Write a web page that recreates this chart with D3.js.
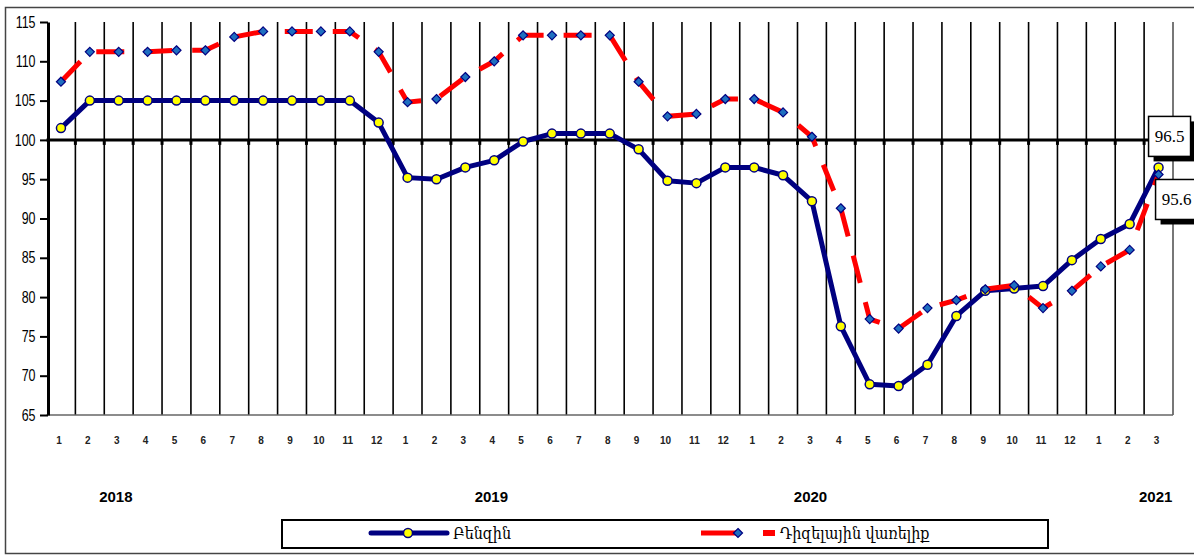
<!DOCTYPE html>
<html>
<head>
<meta charset="utf-8">
<script src="https://cdn.jsdelivr.net/npm/d3@7"></script>
<style>
    body { margin: 0; background: #fff; }
    svg { display: block; }
</style>
</head>
<body>
<svg id="chart"></svg>
<script>
// Fuel price index chart (petrol vs diesel), monthly 2018-2021

const months = ["1","2","3","4","5","6","7","8","9","10","11","12",
                "1","2","3","4","5","6","7","8","9","10","11","12",
                "1","2","3","4","5","6","7","8","9","10","11","12",
                "1","2","3"];
const years = ["2018", "2019", "2020", "2021"];
const seriesNames = ["Բենզին", "Դիզելային վառելիք"];

const petrol = [101.5, 105.0, 105.0, 105.0, 105.0, 105.0, 105.0, 105.0, 105.0, 105.0, 105.0, 102.2,
                95.2, 95.0, 96.5, 97.4, 99.8, 100.8, 100.8, 100.8, 98.8, 94.8, 94.5, 96.5,
                96.5, 95.5, 92.2, 76.3, 68.9, 68.7, 71.4, 77.6, 80.8, 81.1, 81.4, 84.7,
                87.4, 89.3, 96.5];
const diesel = [107.4, 111.2, 111.2, 111.2, 111.4, 111.4, 113.1, 113.8, 113.8, 113.8, 113.8, 111.2,
                104.8, 105.2, 108.0, 110.0, 113.3, 113.3, 113.3, 113.3, 107.4, 103.0, 103.3, 105.2,
                105.2, 103.5, 100.4, 91.3, 77.2, 76.0, 78.6, 79.6, 81.0, 81.5, 78.6, 80.8,
                83.9, 86.0, 95.6];
const yTicks = [65, 70, 75, 80, 85, 90, 95, 100, 105, 110, 115];

const W = 1194, H = 556;
const PLOT = {left: 46.5, right: 1173, top: 22, bottom: 415};
const NAVY = "#000080", RED = "#ff0000", YELLOW = "#ffff00", DIAMOND = "#1f6fc0";

const svg = d3.select("#chart").attr("width", W).attr("height", H);

const idx = months.map((m, i) => i);
const xScale = d3.scaleBand().domain(idx).range([PLOT.left, PLOT.right]).padding(0);
const yScale = d3.scaleLinear().domain([65, 115]).range([PLOT.bottom, PLOT.top]);
const cx = i => xScale(i) + xScale.bandwidth() / 2;

// outer frame
svg.append("rect")
    .attr("x", 5.5).attr("y", 7.5)
    .attr("width", 1210).attr("height", 546)
    .attr("fill", "none").attr("stroke", "#444").attr("stroke-width", 1.5);

// vertical gridlines at category boundaries
svg.append("g").selectAll("line")
    .data(idx)
    .enter().append("line")
    .attr("x1", i => xScale(i) + xScale.bandwidth())
    .attr("x2", i => xScale(i) + xScale.bandwidth())
    .attr("y1", yScale(115)).attr("y2", yScale(65))
    .attr("stroke", i => i === idx.length - 1 ? "#555" : "#000")
    .attr("stroke-width", 1.6);

// bottom edge of plot
svg.append("line")
    .attr("x1", PLOT.left).attr("x2", PLOT.right)
    .attr("y1", yScale(65)).attr("y2", yScale(65))
    .attr("stroke", "#666").attr("stroke-width", 1.5);

// y axis
const yAxis = svg.append("g")
    .attr("transform", "translate(" + (PLOT.left + 1.5) + ",0)")
    .call(d3.axisLeft(yScale).tickValues(yTicks).tickSize(8).tickPadding(0).tickSizeOuter(0));
yAxis.select(".domain").attr("stroke", "#000").attr("stroke-width", 3);
yAxis.selectAll(".tick line").attr("stroke", "#000").attr("stroke-width", 2);
yAxis.selectAll(".tick text")
    .attr("x", -16)
    .attr("transform", "scale(0.78,1)")
    .attr("font-family", "Liberation Sans, Arial, sans-serif")
    .attr("font-size", 16)
    .attr("fill", "#000");

// category axis crossing at 100
const baseY = yScale(100);
svg.append("line")
    .attr("x1", PLOT.left).attr("x2", PLOT.right)
    .attr("y1", baseY).attr("y2", baseY)
    .attr("stroke", "#000").attr("stroke-width", 3);
svg.append("g").selectAll("line")
    .data(idx)
    .enter().append("line")
    .attr("x1", i => xScale(i) + xScale.bandwidth())
    .attr("x2", i => xScale(i) + xScale.bandwidth())
    .attr("y1", baseY).attr("y2", baseY + 5)
    .attr("stroke", "#000").attr("stroke-width", 3);

// month labels (low position)
const xAxis = svg.append("g")
    .attr("transform", "translate(-2," + PLOT.bottom + ")")
    .call(d3.axisBottom(xScale).tickFormat(i => months[i]).tickSize(0).tickPadding(22));
xAxis.select(".domain").remove();
xAxis.selectAll(".tick text")
    .attr("font-family", "Liberation Sans, Arial, sans-serif")
    .attr("font-size", 10)
    .attr("font-weight", "bold")
    .attr("fill", "#222");

// year labels
const yearAt = [1.9, 14.9, 25.95, 37.9];
svg.append("g").selectAll("text")
    .data(years)
    .enter().append("text")
    .attr("x", (d, i) => xScale(0) + xScale.bandwidth() * (yearAt[i] + 0.5))
    .attr("y", 502)
    .attr("text-anchor", "middle")
    .attr("font-family", "Liberation Sans, Arial, sans-serif")
    .attr("font-size", 15)
    .attr("font-weight", "bold")
    .text(d => d);

// series lines
const line = d3.line().x((d, i) => cx(i)).y(d => yScale(d));

svg.append("path")
    .datum(petrol)
    .attr("d", line)
    .attr("fill", "none").attr("stroke", NAVY).attr("stroke-width", 5)
    .attr("stroke-linejoin", "round");
svg.append("g").selectAll("circle")
    .data(petrol)
    .enter().append("circle")
    .attr("cx", (d, i) => cx(i)).attr("cy", d => yScale(d))
    .attr("r", 4.5)
    .attr("fill", YELLOW).attr("stroke", NAVY).attr("stroke-width", 1.5);

svg.append("path")
    .datum(diesel)
    .attr("d", line)
    .attr("fill", "none").attr("stroke", RED).attr("stroke-width", 5)
    .attr("stroke-dasharray", "28,20");
const diamond = d3.symbol().type(d3.symbolDiamond2).size(52);
svg.append("g").selectAll("path")
    .data(diesel)
    .enter().append("path")
    .attr("d", diamond)
    .attr("transform", (d, i) => "translate(" + cx(i) + "," + yScale(d) + ")")
    .attr("fill", DIAMOND).attr("stroke", NAVY).attr("stroke-width", 1.2);

// data labels on the last point
function boxLabel(value, x, y) {
    const g = svg.append("g").attr("transform", "translate(" + x + "," + y + ")");
    g.append("rect").attr("x", 5).attr("y", 5).attr("width", 42).attr("height", 40).attr("fill", "#000");
    g.append("rect").attr("x", 0).attr("y", 0).attr("width", 42).attr("height", 40)
        .attr("fill", "#fff").attr("stroke", "#000").attr("stroke-width", 1.5);
    g.append("text").attr("x", 21).attr("y", 26)
        .attr("text-anchor", "middle")
        .attr("font-family", "Liberation Serif, Times New Roman, serif")
        .attr("font-size", 17)
        .text(value.toFixed(1));
}
const last = months.length - 1;
boxLabel(petrol[last], cx(last) - 10, yScale(petrol[last]) - 51);
boxLabel(diesel[last], cx(last) - 3, yScale(diesel[last]) + 5);

// legend
const legend = svg.append("g");
legend.append("rect")
    .attr("x", 282).attr("y", 520).attr("width", 766).attr("height", 28)
    .attr("fill", "#fff").attr("stroke", "#000").attr("stroke-width", 2);
const ly = 533;
legend.append("line")
    .attr("x1", 371).attr("x2", 447).attr("y1", ly).attr("y2", ly)
    .attr("stroke", NAVY).attr("stroke-width", 5).attr("stroke-linecap", "round");
legend.append("circle")
    .attr("cx", 408).attr("cy", ly).attr("r", 4.5)
    .attr("fill", YELLOW).attr("stroke", NAVY).attr("stroke-width", 1.5);
legend.append("line")
    .attr("x1", 701).attr("x2", 737).attr("y1", ly).attr("y2", ly)
    .attr("stroke", RED).attr("stroke-width", 5);
legend.append("rect")
    .attr("x", 763).attr("y", ly - 3).attr("width", 12).attr("height", 6).attr("fill", RED);
legend.append("path")
    .attr("d", diamond)
    .attr("transform", "translate(738," + ly + ")")
    .attr("fill", DIAMOND).attr("stroke", NAVY).attr("stroke-width", 1.2);
legend.selectAll("text")
    .data(seriesNames)
    .enter().append("text")
    .attr("x", (d, i) => i === 0 ? 453 : 780)
    .attr("y", ly + 6)
    .attr("font-family", "DejaVu Serif Condensed, DejaVu Serif, serif")
    .attr("font-size", 16)
    .text(d => d);
</script>
</body>
</html>
